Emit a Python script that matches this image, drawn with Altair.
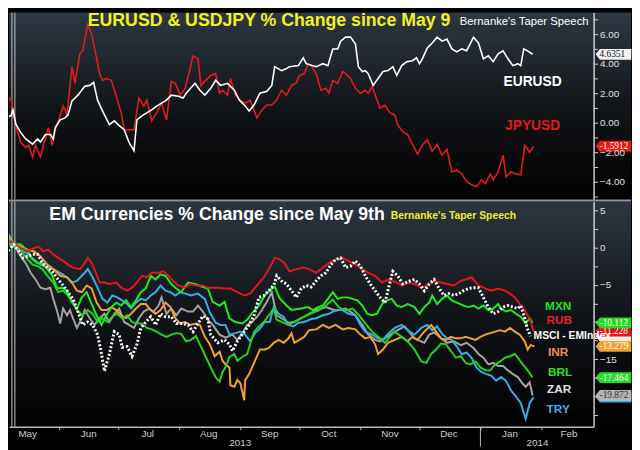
import altair as alt
import pandas as pd

# ---------------- data (days since 9 May 2013, % change) ----------------
BASE_DATE = "2013-05-09"

EUR_DAY = [-6.5,-5,-1.5,-0.5,1,3.5,6,9.5,12,13.5,16,18.5,20,21,23.5,26,27.5,29.5,32.5,36,38.5,40.5,42.5,45,48.5,51,53.5,56,58.5,61,62.5,65,67.5,70,72.5,75,77.5,80,83.5,86,87.5,92,94.5,97,100,102.5,105,108.5,112,114.5,117.5,119.5,122,125,128.5,131,132.5,136,138.5,140,144.5,147,148.5,153.5,157,159.5,162,164.5,166,168.5,171,173.5,175,177,178.5,180,182.5,185,187.5,190,192.5,194.5,197,199.5,202.5,204.5,206,207.5,210,212.5,215,217.5,220,222.5,225,227.5,230,233.5,236,238.5,241,243.5,246,248.5,251,253.5,256,257.5,259,261,263.5]
EUR_VAL = [0.67,0.33,0.47,0.87,-0.1,-0.67,-1.1,-1.45,-1.1,-1.3,-0.8,-0.8,-1.1,-0.33,0.2,0.33,0.53,1.47,1.87,2.47,2.53,2.73,1.53,0.8,-0.13,0.13,-0.2,-0.47,-1.33,-1.9,0.2,0.47,0.67,0.87,1.13,1.33,1.53,1.87,1.8,1.67,2.0,2.67,2.2,1.87,2.33,2.87,2.53,2.67,2.2,1.53,1.13,0.8,1.2,2.0,2.13,2.53,3.8,3.53,3.67,3.8,3.87,4.4,4.0,3.8,4.0,3.87,5.0,5.0,5.53,5.8,5.8,5.33,3.8,3.47,3.53,3.33,2.53,3.0,3.47,3.53,3.8,3.2,3.87,4.13,4.2,4.4,4.0,4.33,5.07,5.4,5.8,5.53,5.67,5.0,4.8,5.0,4.87,5.8,5.4,4.33,4.53,4.13,4.67,4.87,4.33,3.87,4.0,3.87,5.0,4.87,4.64]

JPY_DAY = [-6.5,-5,-3,-1.5,-0.5,1,3.5,6,7.5,9.5,11,13.5,15,17.5,19.5,21,23.5,25,27,29.5,31,33.5,35,37.5,39.5,42,43.5,45,47,49.5,52,54.5,56,58.5,61,63.5,66,67.5,70,72.5,75,77.5,80,82,84.5,87,89.5,91,93.5,95,97.5,100,102.5,104.5,106,108.5,110,112.5,115,117.5,120,123.5,126,128.5,131,133.5,136,138.5,141,143.5,145,147.5,149.5,151,153.5,156,158.5,160,162,164.5,167,168.5,171,173.5,176,178.5,180,182,184.5,186,188.5,191,193.5,195,197.5,200,202.5,205,207.5,210,212.5,215,217.5,220,222.5,225,227.5,230,232.5,235,237.5,239.5,242,243.5,246,248.5,250,252.5,255,257.5,259.5,262,264]
JPY_VAL = [3.33,2.67,1.53,1.67,0.67,-0.2,-1.33,-1.67,-1.53,-2.33,-1.53,-2.33,-1.53,-0.33,-1.53,-0.47,0.47,1.13,0.53,3.8,2.67,4.67,4.87,6.67,6.0,4.4,3.33,2.87,3.0,2.87,1.8,0.67,-0.47,-0.47,-0.47,1.67,1.13,1.53,0.13,0.67,1.33,0.2,2.8,2.67,1.87,2.33,3.67,4.53,4.33,2.53,2.87,3.2,3.33,2.0,2.2,1.87,3.0,1.87,1.53,1.33,1.53,0.33,0.87,1.2,1.2,1.53,2.2,1.87,2.53,2.7,3.2,3.33,4.0,3.87,3.33,2.2,2.33,2.0,2.87,2.67,3.47,3.33,3.0,2.33,2.0,2.2,2.0,2.47,1.53,1.0,1.2,0.67,0.53,-0.13,-0.6,-0.8,-1.47,-2.13,-1.53,-1.13,-1.93,-1.47,-2.2,-1.8,-3.33,-3.2,-3.47,-4.0,-4.2,-4.33,-3.87,-4.13,-3.47,-3.87,-3.33,-2.2,-3.67,-3.33,-3.47,-3.53,-1.53,-2.0,-1.59]

RUB_DAY = [-6.5,-1.5,1,3.5,7,10,12.5,15,17.5,20,22.5,25,27.5,30,33.5,36,37.5,39.5,42,43.5,46,48.5,52,54.5,57.5,60,62.5,65,67.5,70,73.5,76,78.5,81,83.5,87,89.5,92.5,96,98.5,103.5,107,110,113.5,117,120,123.5,127,130,132.5,135,137.5,140,143.5,147,150,153.5,157,160,163.5,167,170,173.5,177,180,183.5,187,190,193.5,197,200,203.5,207,210,213.5,217,220,223.5,227,229.5,232.5,236,239.5,242.5,246,249.5,252,254.5,257,259.5,262,264]
RUB_VAL = [0.5,0.8,0.4,-0.1,-0.5,-0.1,0.13,-0.5,-0.3,-0.9,-1.4,-1.8,-2.3,-2.7,-2.9,-2.1,-1.4,-2.1,-3.6,-4.7,-4.7,-4.9,-4.7,-5.4,-5.8,-5.4,-4.7,-3.8,-4.0,-3.4,-3.4,-3.2,-3.8,-4.5,-5.1,-5.4,-4.9,-5.1,-5.1,-5.4,-5.4,-5.5,-5.5,-6.0,-6.45,-6.2,-5.1,-4.0,-2.7,-1.4,-1.6,-2.1,-3.2,-2.9,-2.7,-2.9,-3.4,-2.7,-2.1,-1.6,-1.4,-1.8,-2.3,-2.9,-3.4,-3.8,-4.7,-4.3,-4.6,-5.1,-4.7,-4.9,-5.4,-5.1,-4.5,-4.7,-4.9,-5.1,-4.5,-4.3,-4.0,-5.1,-5.5,-5.8,-5.5,-5.8,-6.2,-6.7,-7.6,-8.4,-9.6,-11.2]

MSCI_DAY = [-6.5,-4,-2.5,0,2.5,4.5,7,9.5,12,14.5,17,20,22.5,25,27.5,30,32.5,35,37.5,40,42.5,44.5,46,48.5,51,53.5,55,57.5,60,62.5,64.5,67,69.5,72,74.5,77,80,82.5,86,88.5,91,93.5,96,98.5,100,103.5,107,109.5,111,113.5,117,119.5,122,124.5,127,129.5,132,133.5,136,138.5,141,143.5,146,148.5,151,153.5,156,158.5,161,163.5,166,168.5,171,173.5,176,178.5,181,183.5,186,188.5,191,192.5,195,197.5,201,203.5,206,208.5,211,213.5,216,218.5,221,223.5,226,228.5,231,233.5,236,238.5,241,243.5,246,248.5,251,253.5,256,257.5,259.5,261,262.5]
MSCI_VAL = [-1.6,-1.2,-0.3,0.4,-0.5,-1.4,-1.2,-0.9,-0.9,-2.1,-2.7,-3.4,-4.3,-5.1,-6.0,-6.9,-8.6,-10.4,-10.0,-10.4,-11.7,-14.3,-16.6,-14.3,-11.3,-11.7,-13.4,-13.3,-14.6,-13.0,-10.8,-10.0,-9.3,-10.4,-8.9,-9.3,-9.3,-10.2,-10.2,-10.4,-11.3,-10.2,-9.2,-9.6,-11.7,-12.8,-12.4,-13.0,-13.9,-12.6,-11.3,-10.4,-9.1,-6.7,-6.45,-5.8,-5.1,-3.8,-4.5,-4.9,-5.8,-6.7,-5.5,-5.1,-5.3,-4.5,-3.8,-3.4,-2.3,-1.6,-1.4,-2.7,-2.5,-1.8,-2.5,-3.8,-4.9,-5.8,-6.7,-7.4,-4.7,-3.2,-3.8,-4.9,-4.5,-4.3,-4.9,-5.8,-4.9,-4.3,-5.5,-6.45,-6.2,-6.45,-6.2,-5.8,-5.5,-5.4,-5.4,-6.7,-8.0,-8.9,-8.6,-8.0,-7.8,-8.0,-8.2,-7.8,-9.5,-11.0,-11.9]

MXN_DAY = [-6.5,-3,0,3.5,7,9.5,12,14.5,17,19.5,22,24.5,27,29.5,32,34.5,37,39.5,42,44.5,47,49.5,52,54.5,57,59.5,62,64.5,67,69.5,72,74.5,77,80,82.5,85,88.5,92,95,98.5,101,104.5,107,109.5,112.5,116,118.5,121,124.5,127.5,131,132.5,135,138.5,141,146,149.5,152,154.5,157,159.5,162,164.5,167,169.5,172,174.5,177,179.5,182,184.5,187,189.5,192,194.5,197,200,203.5,206,208.5,211,212.5,215,217.5,220,222.5,225,228.5,231,233.5,236,238.5,241,243.5,246,247.5,250,252.5,255,257.5,260,262,263.5]
MXN_VAL = [1.0,1.4,0.4,0.4,-0.5,-1.6,-2.1,-2.1,-2.9,-3.8,-5.5,-5.4,-5.8,-7.4,-8.2,-6.7,-6.0,-7.6,-9.1,-10.4,-9.1,-8.0,-7.4,-7.8,-7.1,-8.0,-7.1,-6.0,-5.5,-3.8,-4.3,-3.6,-3.8,-4.9,-5.5,-6.0,-4.7,-4.9,-5.2,-5.5,-7.3,-7.8,-7.3,-9.5,-10.0,-10.2,-9.7,-8.8,-7.8,-6.4,-5.5,-5.3,-6.8,-7.8,-8.4,-8.2,-8.0,-8.4,-8.0,-7.8,-6.9,-6.0,-6.9,-6.7,-6.7,-6.9,-7.1,-7.8,-8.9,-9.1,-8.9,-7.6,-7.1,-6.9,-7.8,-8.0,-7.6,-8.0,-8.9,-8.0,-7.4,-6.45,-7.6,-6.9,-6.45,-7.1,-7.4,-7.8,-8.0,-7.8,-8.2,-7.8,-8.4,-8.2,-7.6,-8.2,-8.6,-8.4,-8.9,-9.3,-10.2,-9.5,-10.1]

BRL_DAY = [-6.5,0,3.5,7,9.5,12,14.5,17,20,22.5,25,27.5,30,32.5,35,37.5,40,42.5,45,47.5,50,52.5,55,57.5,60,62.5,65,67.5,70,72.5,75,77.5,80,82.5,85,87.5,90,92.5,94.5,97.5,100,102.5,104.5,106,107.5,109.5,112,113.5,116,118.5,120,122,124.5,127,129.5,132,133.5,136,139.5,142.5,146,151,154.5,158.5,162,165,168.5,172,175,178.5,182,185,188.5,191,193.5,197,200,203.5,207,209.5,212,214.5,217,219.5,222,224.5,227,229.5,232,234.5,237,239.5,242,244.5,247,249.5,252,254.5,256,258.5,261,263.5]
BRL_VAL = [1.0,0.1,-0.5,-1.6,-2.3,-2.5,-2.9,-3.8,-4.7,-6.0,-5.8,-6.5,-7.4,-8.6,-9.1,-8.4,-8.9,-10.0,-9.5,-10.0,-9.3,-8.9,-9.5,-9.1,-10.0,-10.2,-10.2,-10.8,-11.0,-11.3,-11.7,-12.0,-11.7,-11.5,-11.6,-12.6,-12.4,-11.9,-13.0,-14.7,-16.1,-17.4,-18.0,-16.7,-16.1,-14.7,-14.3,-15.2,-14.7,-14.3,-13.0,-11.3,-10.6,-10.0,-9.1,-8.2,-9.7,-10.0,-10.4,-10.0,-9.5,-8.8,-8.5,-7.8,-7.0,-8.0,-8.5,-8.2,-9.0,-10.2,-11.3,-12.0,-12.8,-12.0,-11.3,-12.0,-12.6,-13.7,-15.3,-15.5,-14.3,-13.7,-12.9,-13.0,-13.9,-14.8,-14.6,-15.5,-15.7,-15.3,-16.1,-16.5,-16.5,-15.7,-15.3,-14.8,-14.6,-14.3,-14.8,-15.7,-16.5,-17.46]

TRY_DAY = [-6.5,0,3.5,7,10,13.5,17,20,23.5,27,29.5,32,34.5,36,37.5,40,42.5,45,47.5,50,52.5,55,57.5,59.5,62,64.5,67,69.5,72,74.5,77,79.5,82,84.5,87,90,93.5,97,99.5,102.5,105,107.5,109.5,112.5,115,117.5,120,122.5,125,127.5,130,132,134.5,137,139.5,142,144.5,147.5,151,153.5,157,160,163.5,167,170,173.5,176,178.5,182,185,187.5,190,193.5,197,201,203.5,207,210,212.5,215,217.5,220,222.5,225,227.5,230,232.5,235,237.5,240,242.5,245,247.5,250,252.5,255,257.5,260,262,264]
TRY_VAL = [0.8,0.4,-0.3,-0.9,-1.6,-2.3,-2.7,-2.9,-3.4,-4.0,-4.7,-4.5,-3.8,-3.4,-2.9,-4.0,-5.4,-6.9,-7.4,-6.45,-6.7,-7.1,-7.6,-8.2,-7.4,-6.9,-7.1,-6.45,-6.0,-5.1,-5.8,-6.0,-6.45,-6.0,-6.2,-6.45,-6.2,-6.9,-8.7,-10.1,-10.4,-10.4,-11.7,-11.5,-11.3,-11.7,-12.6,-11.5,-10.9,-10.0,-10.0,-8.0,-8.9,-9.3,-10.4,-10.6,-10.1,-10.0,-9.6,-9.5,-9.1,-8.9,-8.4,-8.4,-8.9,-9.1,-10.4,-11.3,-11.7,-12.2,-12.4,-11.6,-10.8,-10.4,-11.3,-11.7,-10.8,-10.4,-11.1,-10.6,-11.6,-12.2,-12.4,-13.3,-14.3,-14.1,-14.8,-16.1,-16.7,-17.0,-17.2,-17.9,-17.4,-17.9,-19.2,-20.0,-20.9,-23.0,-20.9,-20.1]

ZAR_DAY = [-6.5,-3,0,3.5,6,8.5,11,13.5,16,18.5,20,22,23.5,25,27,28.5,30,32,34.5,36,38.5,41,43.5,46,48.5,51,53.5,56,58.5,61,63.5,66,68.5,71,73.5,75,77.5,80,82.5,85,88.5,91,93.5,96,98.5,101,104.5,107.5,111,113.5,116,118.5,121,123.5,126,128.5,131,133.5,136,139.5,142.5,146,151,153.5,158.5,163.5,168.5,173.5,177,180,183.5,186,189.5,193.5,198.5,203.5,208.5,211,213.5,217,220,223.5,227,230,233.5,236,238.5,241,243.5,246,248.5,251,253.5,256,258.5,260,262,263.5]
ZAR_VAL = [1.4,1.9,0.4,-1.2,-2.1,-3.4,-4.3,-5.4,-5.6,-5.4,-6.9,-8.6,-10.2,-8.2,-9.1,-8.4,-9.5,-10.8,-9.5,-8.4,-9.5,-10.4,-9.5,-8.9,-10.0,-8.9,-8.2,-10.0,-10.4,-10.8,-9.5,-8.6,-8.2,-8.6,-7.8,-6.7,-8.9,-8.2,-9.1,-8.2,-8.6,-8.6,-7.8,-8.6,-9.7,-10.4,-11.7,-12.1,-11.7,-12.4,-11.5,-10.4,-10.0,-9.3,-8.4,-7.3,-6.0,-9.1,-9.5,-10.1,-10.0,-9.5,-8.8,-8.4,-8.0,-8.5,-8.2,-9.1,-10.4,-11.7,-12.4,-12.6,-12.0,-11.3,-10.6,-12.2,-12.8,-11.7,-11.4,-12.2,-12.8,-12.6,-13.1,-12.8,-13.5,-14.3,-14.8,-15.7,-15.5,-15.9,-15.9,-16.5,-17.0,-17.4,-18.3,-18.7,-18.1,-19.87]

INR_DAY = [-6.5,-3,0,3.5,7,10,13.5,17,20,23.5,27,29.5,32,34.5,37,39.5,42,44.5,47,49.5,52,54.5,57,59.5,62,64.5,67,69.5,72,74.5,77,79.5,82,84.5,87,89.5,92.5,94.5,97,99.5,102,104.5,106,107.5,109.5,110,112,113.5,115,117,117.5,119.5,121,123.5,125,127.5,129.5,132,134.5,137,139.5,141,142.5,145,147.5,150,153.5,157,160,163.5,167,170,173.5,176,178.5,181,183.5,185,187.5,190,193.5,197,200,202.5,205,208.5,212,214.5,217,219.5,222,224.5,227,229.5,232,234.5,237,239.5,242,244.5,247,249.5,252,254.5,257,259.5,261,262.5,264.5]
INR_VAL = [1.4,1.4,0.5,0.1,-0.3,-0.5,-1.2,-2.3,-2.9,-3.8,-4.0,-4.7,-5.8,-6.0,-5.1,-5.5,-7.4,-8.4,-8.4,-8.0,-8.4,-9.1,-9.5,-8.9,-8.2,-7.6,-7.6,-8.4,-8.9,-8.4,-7.4,-8.0,-9.5,-10.2,-10.0,-10.4,-10.2,-10.4,-12.0,-13.0,-14.6,-14.0,-15.2,-15.7,-16.1,-18.5,-18.7,-17.8,-18.2,-20.5,-17.8,-17.0,-16.1,-14.6,-13.7,-13.7,-13.5,-12.8,-12.4,-12.8,-12.2,-11.5,-12.8,-12.4,-12.0,-11.1,-11.0,-10.4,-10.8,-10.4,-11.0,-10.8,-11.0,-11.7,-12.2,-12.0,-13.0,-14.3,-13.7,-12.8,-12.4,-12.0,-12.6,-12.0,-12.4,-11.3,-10.4,-11.3,-12.2,-12.4,-12.0,-12.2,-12.2,-12.0,-12.2,-12.4,-12.0,-11.7,-11.5,-11.3,-11.1,-11.3,-10.8,-11.3,-11.7,-12.6,-13.7,-13.1,-13.28]

MONTHS = ["May", "Jun", "Jul", "Aug", "Sep", "Oct", "Nov", "Dec", "Jan", "Feb"]
MONTH_MID = ["2013-05-16", "2013-06-16", "2013-07-16", "2013-08-16", "2013-09-16",
             "2013-10-16", "2013-11-16", "2013-12-16", "2014-01-16", "2014-02-15"]
MONTH_START = ["2013-06-01", "2013-07-01", "2013-08-01", "2013-09-01", "2013-10-01",
               "2013-11-01", "2013-12-01", "2014-01-01", "2014-02-01"]
YEARS = ["2013", "2014"]
YEAR_MID = ["2013-09-01", "2014-01-30"]
YEAR_BREAK = ["2014-01-01"]
SPEECH_MARK_DAY = [-1.0, 0.5]

TOP_TAG_NAME = ["EURUSD", "JPYUSD"]
TOP_TAG_VALUE = [4.635102, -1.59129]
TOP_TAG_TEXT = ["4.635102", "-1.59129"]

# tags whose numbers are hidden behind neighbours in the original carry no text
EM_TAG_NAME = ["MSCI", "RUB", "MXN", "INR", "TRY", "ZAR", "BRL"]
EM_TAG_VALUE = [-11.9, -11.2289, -10.1126, -13.2790, -20.1, -19.8724, -17.4647]
EM_TAG_TEXT = ["", "-11.2289", "-10.1126", "-13.2790", "", "-19.8724", "-17.4647"]

# ---------------- layout / style ----------------
W, H_TOP, H_BOT = 594, 190, 229
RIGHT = W + 38            # keep every mark inside the drawable width
FONT = "Liberation Sans"
TAG_PATH = "M0,0 L0.4,-0.5 L3.3,-0.5 L3.3,0.5 L0.4,0.5 Z"

LINE_COLOR = {"EURUSD": "#ffffff", "JPYUSD": "#e31b1f", "ZAR": "#a3a3a3", "TRY": "#38aee6",
              "INR": "#f5a033", "BRL": "#22d322", "MXN": "#1eee1e", "RUB": "#e3141c"}
TAG_STYLE = {"EURUSD": ("#f2f2f2", "#111111"), "JPYUSD": ("#e81818", "#ffffff"),
             "MSCI": ("#f0f0f0", "#111111"), "RUB": ("#e81010", "#ffffff"),
             "MXN": ("#22dd22", "#ffffff"), "INR": ("#f5a030", "#ffffff"),
             "TRY": ("#3aa6e6", "#ffffff"), "ZAR": ("#b4b4b4", "#333333"),
             "BRL": ("#22dd22", "#ffffff")}

base = pd.Timestamp(BASE_DATE)


def frame(days, vals):
    n = min(len(days), len(vals))
    return pd.DataFrame({
        "date": base + pd.to_timedelta(pd.Series(days[:n], dtype=float), unit="D"),
        "value": vals[:n],
    })


def dt(ts):
    ts = pd.Timestamp(ts)
    return alt.DateTime(year=ts.year, month=ts.month, date=ts.day, hours=ts.hour)


ONE = pd.DataFrame({"k": [0]})
xscale = alt.Scale(domain=[dt(base - pd.Timedelta(hours=60)), dt(base + pd.Timedelta(hours=294 * 24 + 12))], nice=False)

X_BOT_AXIS = alt.Axis(values=[dt(s) for s in MONTH_START], labels=False, ticks=True, tickSize=3,
                      tickColor="#bbbbbb", domainColor="#bbbbbb", domainWidth=1.5, grid=False, zindex=1)


def X_top():
    return alt.X("date:T", scale=xscale, axis=None, title=None)


def X_bot():
    return alt.X("date:T", scale=xscale, axis=X_BOT_AXIS, title=None)


Y_TOP = alt.Y("value:Q", title=None,
              scale=alt.Scale(domain=[-5.2, 7.47], nice=False, zero=False),
              axis=alt.Axis(orient="right", values=list(range(-5, 8)),
                            labelExpr="datum.value % 2 === 0 ? format(datum.value, '.2f') : ''",
                            tickSize=4, labelPadding=2, grid=False, zindex=1,
                            domainColor="#cfcfcf", domainWidth=1.5))
bot_ticks = [5 - 2.5 * i for i in range(12)]
Y_BOT = alt.Y("value:Q", title=None,
              scale=alt.Scale(domain=[-24.08, 6.18], nice=False, zero=False),
              axis=alt.Axis(orient="right", values=bot_ticks,
                            labelExpr="(datum.value % 5 === 0 && datum.value !== -10 && datum.value !== -20) ? format(datum.value, 'd') : ''",
                            tickSize=4, labelPadding=2, grid=False, zindex=1,
                            domainColor="#cfcfcf", domainWidth=1.5))


def background(h, top_color, mid_color):
    grad = alt.LinearGradient(gradient="linear", x1=0, x2=0, y1=0, y2=1,
                              stops=[alt.GradientStop(color=top_color, offset=0),
                                     alt.GradientStop(color=mid_color, offset=0.5),
                                     alt.GradientStop(color="#010101", offset=1)])
    return alt.Chart(ONE).mark_rect(fill=grad, strokeWidth=0).encode(
        x=alt.value(0), x2=alt.value(RIGHT), y=alt.value(0), y2=alt.value(h))


def text(t, x, y, color, size, weight="bold", align="center", font=FONT):
    return alt.Chart(ONE).mark_text(text=t, color=color, fontSize=size, fontWeight=weight,
                                    align=align, baseline="middle", font=font).encode(
        x=alt.value(x), y=alt.value(y))


def line(days, vals, color, width, Xf, Y, dash=None):
    kw = dict(color=color, strokeWidth=width, clip=True)
    if dash:
        kw["strokeDash"] = dash
    return alt.Chart(frame(days, vals)).mark_line(**kw).encode(x=Xf(), y=Y)


def speech_rules(Xf):
    df = pd.DataFrame({"date": base + pd.to_timedelta(pd.Series(SPEECH_MARK_DAY, dtype=float), unit="D")})
    return alt.Chart(df).mark_rule(color="#c8c8c8", strokeWidth=1).encode(x=Xf())


def tag(value, label, name, Y):
    fill, tcol = TAG_STYLE[name]
    df = pd.DataFrame({"value": [value], "text": [label]})
    layers = [alt.Chart(df).mark_point(shape=TAG_PATH, size=484, filled=True, fill=fill,
                                       opacity=1, strokeWidth=0).encode(x=alt.value(W + 2), y=Y)]
    if label:
        layers.append(alt.Chart(df).mark_text(align="left", baseline="middle", fontSize=9.5,
                                              font="Liberation Serif", color=tcol,
                                              limit=RIGHT - (W + 6), ellipsis=" ").encode(
            x=alt.value(W + 6), y=Y, text="text:N"))
    return layers


# ---------------- top panel ----------------
top_layers = [
    background(H_TOP, "#2e3842", "#121519"),
    speech_rules(X_top),
    line(JPY_DAY, JPY_VAL, LINE_COLOR["JPYUSD"], 1.6, X_top, Y_TOP),
    line(EUR_DAY, EUR_VAL, LINE_COLOR["EURUSD"], 1.6, X_top, Y_TOP),
    text("EURUSD & USDJPY % Change since May 9", 80, 9, "#f2f21e", 18, align="left"),
    text("Bernanke's Taper Speech", 458, 10, "#ffffff", 11.5, weight="normal", align="left"),
    text("EURUSD", 532, 71, "#ffffff", 14),
    text("JPYUSD", 532, 115, "#e8141c", 14),
]
for v, t, n in zip(TOP_TAG_VALUE, TOP_TAG_TEXT, TOP_TAG_NAME):
    top_layers += tag(v, t, n, Y_TOP)
top = alt.layer(*top_layers).properties(width=W, height=H_TOP)

# ---------------- bottom panel ----------------
month_df = pd.DataFrame({"date": pd.to_datetime(MONTH_MID), "label": MONTHS})
year_df = pd.DataFrame({"date": pd.to_datetime(YEAR_MID), "label": YEARS})
break_df = pd.DataFrame({"date": pd.to_datetime(YEAR_BREAK)})

bot_layers = [
    background(H_BOT, "#2c3640", "#111418"),
    alt.Chart(ONE).mark_rule(color="#8e9499", strokeWidth=2).encode(
        x=alt.value(0), x2=alt.value(RIGHT), y=alt.value(-1)),
    speech_rules(X_bot),
    line(ZAR_DAY, ZAR_VAL, LINE_COLOR["ZAR"], 2, X_bot, Y_BOT),
    line(TRY_DAY, TRY_VAL, LINE_COLOR["TRY"], 2, X_bot, Y_BOT),
    line(INR_DAY, INR_VAL, LINE_COLOR["INR"], 2, X_bot, Y_BOT),
    line(BRL_DAY, BRL_VAL, LINE_COLOR["BRL"], 2, X_bot, Y_BOT),
    line(MXN_DAY, MXN_VAL, LINE_COLOR["MXN"], 2, X_bot, Y_BOT),
    line(RUB_DAY, RUB_VAL, LINE_COLOR["RUB"], 2, X_bot, Y_BOT),
    line(MSCI_DAY, MSCI_VAL, "#ffffff", 3, X_bot, Y_BOT, dash=[2, 2]),
    text("EM Currencies % Change since May 9th", 41, 14, "#ffffff", 18, align="left"),
    text("Bernanke's Taper Speech", 388, 15, "#eeee2a", 10.5, align="left"),
    text("MXN", 558, 106, "#26e026", 12),
    text("RUB", 559, 121, "#e8202a", 12),
    text("INR", 558, 153, "#f48a5e", 12),
    text("BRL", 560, 173, "#2ee02e", 12),
    text("ZAR", 559, 191, "#e0e0e0", 12),
    text("TRY", 558, 211, "#3ab0e8", 12),
]
for v, t, n in zip(EM_TAG_VALUE, EM_TAG_TEXT, EM_TAG_NAME):
    bot_layers += tag(v, t, n, Y_BOT)
bot_layers += [
    text("MSCI - EMIndex", 533, 137, "#ffffff", 10.5, align="left"),
    alt.Chart(month_df).mark_text(color="#cfcfcf", fontSize=10, font=FONT, baseline="middle").encode(
        x=X_bot(), y=alt.value(H_BOT + 7), text="label:N"),
    alt.Chart(year_df).mark_text(color="#cfcfcf", fontSize=10, font=FONT, baseline="middle").encode(
        x=X_bot(), y=alt.value(H_BOT + 16), text="label:N"),
    alt.Chart(break_df).mark_rule(color="#bbbbbb", strokeWidth=1).encode(
        x=X_bot(), y=alt.value(H_BOT), y2=alt.value(H_BOT + 20)),
]
bottom = alt.layer(*bot_layers).properties(width=W, height=H_BOT)

chart = alt.vconcat(top, bottom, spacing=2, bounds="flush").properties(
    background="#000000", padding=0
).configure_view(stroke=None).configure_axis(
    labelFont=FONT, labelFontSize=10, labelColor="#e0e0e0", tickColor="#d0d0d0"
)

chart.save("out.html", embed_options={"renderer": "svg", "actions": False})
